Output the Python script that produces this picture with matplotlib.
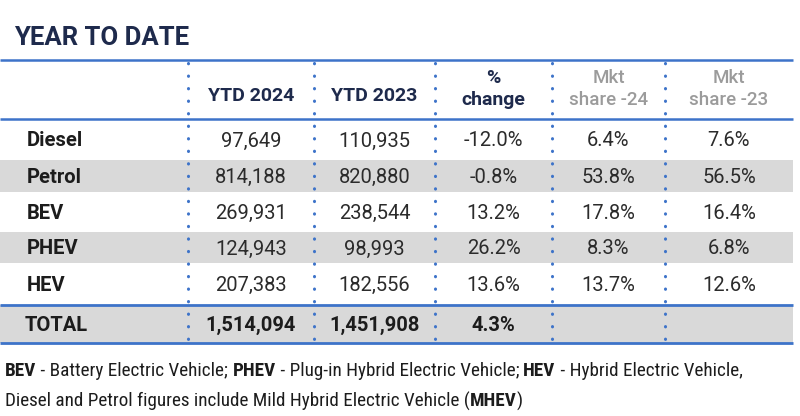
import matplotlib.pyplot as plt
from matplotlib.patches import Rectangle

# table values
fuels = ["Diesel", "Petrol", "BEV", "PHEV", "HEV"]
ytd_2024 = [97649, 814188, 269931, 124943, 207383]
ytd_2023 = [110935, 820880, 238544, 98993, 182556]
pct_change = [-12.0, -0.8, 13.2, 26.2, 13.6]
share_24 = [6.4, 53.8, 17.8, 8.3, 13.7]
share_23 = [7.6, 56.5, 16.4, 6.8, 12.6]
total_label = "TOTAL"
total_2024 = 1514094
total_2023 = 1451908
total_change = 4.3

headers = ["YTD 2024", "YTD 2023", "%\nchange", "Mkt\nshare -24", "Mkt\nshare -23"]
footnote_1 = [("BEV", True), (" - Battery Electric Vehicle; ", False),
              ("PHEV", True), (" - Plug-in Hybrid Electric Vehicle; ", False),
              ("HEV", True), (" - Hybrid Electric Vehicle,", False)]
footnote_2 = [("Diesel and Petrol figures include Mild Hybrid Electric Vehicle (", False),
              ("MHEV", True), (")", False)]

# layout in pixels
col_edges = [0, 188, 314, 435, 552, 665, 793]
row_edges = [119, 160, 192, 232, 263, 305]
total_rows = (305, 343)
top_line = 60

blue = "#3d73c9"
grey_fill = "#d9d9d9"
navy = "#1e2a4c"
txt = "#2b2b2b"
head_grey = "#9b9b9b"

plt.rcParams['font.family'] = ['Roboto', 'DejaVu Sans']

fig = plt.figure(figsize=(8, 4.16), dpi=100)
ax = fig.add_axes([0, 0, 1, 1])
ax.set_xlim(0, 800)
ax.set_ylim(416, 0)
ax.axis("off")

ax.text(14, 38, "YEAR TO DATE", fontsize=18.5, fontweight="bold", color=navy, va="center")

# row shading
for i in range(len(fuels)):
    if i % 2 == 1:
        ax.add_patch(Rectangle((0, row_edges[i]), col_edges[-1], row_edges[i + 1] - row_edges[i],
                               color=grey_fill, lw=0, zorder=0))
ax.add_patch(Rectangle((0, total_rows[0]), col_edges[-1], total_rows[1] - total_rows[0],
                       color=grey_fill, lw=0, zorder=0))

# horizontal rules
for y in [top_line, row_edges[0]]:
    ax.plot([0, col_edges[-1]], [y, y], color=blue, lw=1.8, solid_capstyle="butt")
for y in total_rows:
    ax.plot([0, col_edges[-1]], [y, y], color=blue, lw=2.0, solid_capstyle="butt")

# dotted column separators
for x in col_edges[1:-1]:
    ax.plot([x, x], [top_line + 3, total_rows[1]], color=blue, lw=2.2,
            linestyle=(0, (0.1, 4.0)), dash_capstyle="round")

centers = [(col_edges[j] + col_edges[j + 1]) / 2 for j in range(len(col_edges) - 1)]

# header
for j, h in enumerate(headers):
    c = centers[j + 1]
    if h.startswith("Mkt"):
        ax.text(c, 89, h, ha="center", va="center", fontsize=13.5, color=head_grey,
                fontweight="medium", linespacing=1.3)
    elif "\n" in h:
        ax.text(c, 89, h, ha="center", va="center", fontsize=14, color=navy,
                fontweight="bold", linespacing=1.3)
    else:
        ax.text(c, 96, h, ha="center", va="center", fontsize=14, color=navy, fontweight="bold")

# body
for i, f in enumerate(fuels):
    y = (row_edges[i] + row_edges[i + 1]) / 2 + 1.5
    ax.text(27, y, f, ha="left", va="center", fontsize=14.5, fontweight="bold", color="#1c1c1c")
    vals = [f"{ytd_2024[i]:,}", f"{ytd_2023[i]:,}", f"{pct_change[i]:.1f}%",
            f"{share_24[i]:.1f}%", f"{share_23[i]:.1f}%"]
    for j, v in enumerate(vals):
        ax.text(centers[j + 1], y, v, ha="center", va="center", fontsize=14.5, color=txt)

yt = sum(total_rows) / 2 + 1.5
ax.text(25, yt, total_label, ha="left", va="center", fontsize=14.5, fontweight="bold", color="#1c1c1c")
for j, v in enumerate([f"{total_2024:,}", f"{total_2023:,}", f"{total_change:.1f}%"]):
    ax.text(centers[j + 1], yt, v, ha="center", va="center", fontsize=14.5,
            fontweight="bold", color="#1c1c1c")

# footnote with bold pieces
renderer = fig.canvas.get_renderer()
foot_fam = ['Liberation Sans Narrow', 'Roboto Condensed', 'Roboto', 'DejaVu Sans']
for parts, y in [(footnote_1, 371), (footnote_2, 401)]:
    x = 5
    for s, b in parts:
        t = ax.text(x, y, s, ha="left", va="center", fontsize=13.8, family=foot_fam,
                    fontweight="bold" if b else "normal", color="#1c1c1c")
        bb = t.get_window_extent(renderer=renderer)
        x += bb.width * 800 / fig.bbox.width

fig.savefig("out.png", dpi=100)
